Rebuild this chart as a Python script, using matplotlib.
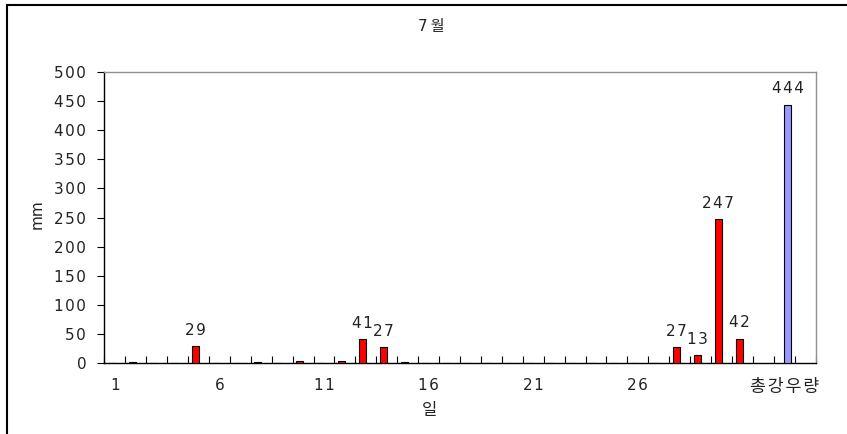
import matplotlib
matplotlib.use("Agg")
import matplotlib.pyplot as plt
import numpy as np
from matplotlib.patches import Rectangle

plt.rcParams['font.family'] = ['DejaVu Sans', 'Noto Sans CJK KR']

# Daily rainfall for July (mm); the last slots hold a gap, the monthly total and a gap
days = list(range(1, 32))
daily_mm = [0, 2, 0, 0, 29, 0, 0, 1.5, 0, 3.5, 0, 3.5, 41, 27, 2,
            0, 0, 0, 0, 0, 0, 0, 0, 0, 0, 0, 0, 27, 13, 247, 42]
total_label = "총강우량"
total_mm = 444
labeled_min = 10

tick_labels = ["1", "6", "11", "16", "21", "26", total_label]
tick_slots = [0, 5, 10, 15, 20, 25, 32]
n_slots = 34
total_slot = 32

title = "7월"
xlabel = "일"
ylabel = "mm"


def spaced(s, sep="\u200a"):
    # widen character spacing the way the chart's typeface does
    return sep.join(s)


fig = plt.figure(figsize=(8.47, 4.34), dpi=100)
ax = fig.add_axes([104.3 / 847, 1 - 363 / 434, (815.7 - 104.3) / 847, (363 - 72) / 434])

txt = '#222222'
width = 0.33
off = 0.16
fs = 11

x_days = np.arange(len(days))
ax.bar(x_days - off, daily_mm, width=width, color='#FF0000', edgecolor='black', linewidth=0.8, zorder=3)
ax.bar([total_slot + off], [total_mm], width=width, color='#9999FF', edgecolor='black', linewidth=0.8, zorder=3)

for xi, v in zip(x_days, daily_mm):
    if v >= labeled_min:
        ax.annotate(spaced(f"{v:g}"), (xi - off, v), xytext=(0, 6), textcoords='offset points',
                    ha='center', va='bottom', fontsize=fs, color=txt)
ax.annotate(spaced(f"{total_mm}"), (total_slot + off, total_mm), xytext=(0, 6), textcoords='offset points',
            ha='center', va='bottom', fontsize=fs, color=txt)

ax.set_xlim(-0.5, n_slots - 0.5)
ax.set_ylim(0, 500)
yt = np.arange(0, 501, 50)
ax.set_yticks(yt)
ax.set_yticklabels([spaced(str(v)) for v in yt])
ax.tick_params(axis='y', direction='out', length=5, width=0.8, labelsize=fs, labelcolor=txt, pad=8)

ax.set_xticks(tick_slots)
ax.set_xticklabels([spaced(t) for t in tick_labels])
ax.tick_params(axis='x', which='major', length=0, labelsize=fs, labelcolor=txt, pad=11)
ax.get_xticklabels()[-1].set_fontsize(12.5)
ax.set_xticks(np.arange(-0.5, n_slots, 1.0), minor=True)
ax.tick_params(axis='x', which='minor', direction='in', length=5, width=0.8)

for s in ['left', 'bottom']:
    ax.spines[s].set_color('black')
    ax.spines[s].set_linewidth(1.0)
for s in ['top', 'right']:
    ax.spines[s].set_color('#909090')
    ax.spines[s].set_linewidth(1.0)

fig.text(431 / 847, 1 - 27 / 434, spaced(title, "\u2009"), ha='center', va='center', fontsize=11, color=txt)
fig.text(430 / 847, 1 - 410 / 434, xlabel, ha='center', va='center', fontsize=12, color=txt)
fig.text(37 / 847, 1 - 214 / 434, ylabel, ha='center', va='center', rotation=90, fontsize=11, color=txt)

# outer chart frame
fig.patches.append(Rectangle((7 / 847, -0.2), 1.2, 1 - 5 / 434 + 0.2, transform=fig.transFigure,
                             fill=False, edgecolor='black', linewidth=1.5))

fig.savefig("out.png", dpi=100)
